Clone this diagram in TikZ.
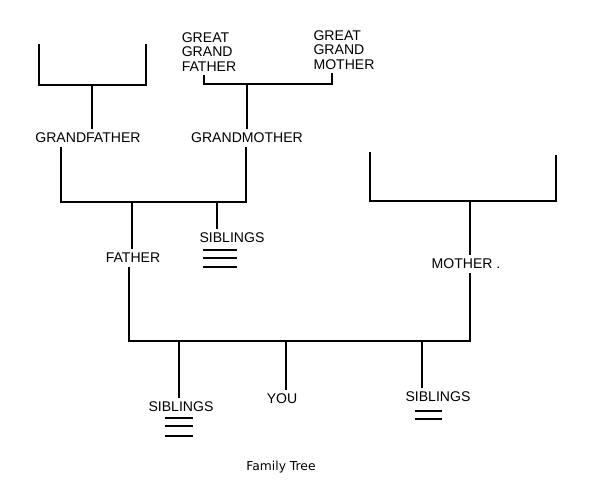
\documentclass[tikz,border=0pt]{standalone}
\usepackage{fontspec}
\setsansfont{Liberation Sans}
\newfontfamily\captionfont{DejaVu Sans}
\usepackage{tikz}

\begin{document}
\begin{tikzpicture}[x=0.03cm, y=-0.03cm,
    person/.style = {font=\sffamily\fontsize{12}{12.5}\selectfont, inner sep=3pt},
    line/.style = {line width=1.4pt},
    tally/.style = {line width=1.2pt}]
            \useasboundingbox (0,0) rectangle (590,484);

            \node[person] (gf) at (88,138) {GRANDFATHER};
            \node[person] (gm) at (247,138) {GRANDMOTHER};
            \node[person, align=left] (ggf) at (209,52) {GREAT\\GRAND\\FATHER};
            \node[person, align=left] (ggm) at (344,50) {GREAT\\GRAND\\MOTHER};
            \node[person] (fa) at (133,258) {FATHER};
            \node[person] (sibF) at (232,238) {SIBLINGS};
            \node[person] (mo) at (466,264) {MOTHER .};
            \node[person] (sibL) at (181,407) {SIBLINGS};
            \node[person] (you) at (282,399) {YOU};
            \node[person] (sibR) at (438,397) {SIBLINGS};
            \node[font=\captionfont\fontsize{10.5}{12}\selectfont] (cap) at (281,467) {Family Tree};

            % grandfather's parents
            \coordinate (gfpL) at (39,44);
            \coordinate (gfpR) at (146,44);
            \coordinate (gfpJ) at (92,85);
            \draw[line] (gfpL) |- (gfpJ) -| (gfpR);
            \draw[line] (gfpJ) -- (gf.north -| gfpJ);

            % great grandparents
            \coordinate (ggfJ) at (204,84);
            \coordinate (ggmJ) at (332,84);
            \coordinate (gmJ) at (247,84);
            \draw[line] (ggf.south -| ggfJ) -- (ggfJ) -- (ggmJ) -- (ggm.south -| ggmJ);
            \draw[line] (gmJ) -- (gm.north);

            % grandparents to father
            \coordinate (gfD) at (61,202);
            \coordinate (gmD) at (246,202);
            \coordinate (faJ) at (132,202);
            \coordinate (sibFJ) at (217,202);
            \draw[line] (gf.south -| gfD) -- (gfD) -- (gmD) -- (gm.south -| gmD);
            \draw[line] (faJ) -- (fa.north -| faJ);
            \draw[line] (sibFJ) -- (sibF.north -| sibFJ);
            \foreach \yy in {250,258,267}
                \draw[tally] (203,\yy) -- (237,\yy);

            % mother's parents
            \coordinate (moL) at (370,152);
            \coordinate (moR) at (556,155);
            \coordinate (moJ) at (470,201);
            \draw[line] (moL) |- (moJ) -| (moR);
            \draw[line] (moJ) -- (mo.north -| moJ);

            % father and mother to children
            \coordinate (faB) at (129,341);
            \coordinate (moB) at (470,341);
            \coordinate (sibLJ) at (179,341);
            \coordinate (youJ) at (286,341);
            \coordinate (sibRJ) at (422,341);
            \draw[line] (fa.south -| faB) -- (faB) -- (moB) -- (mo.south -| moB);
            \draw[line] (sibLJ) -- (sibL.north -| sibLJ);
            \draw[line] (youJ) -- (you.north -| youJ);
            \draw[line] (sibRJ) -- (sibR.north -| sibRJ);
            \foreach \yy in {418,426,436}
                \draw[tally] (165,\yy) -- (193,\yy);
            \foreach \yy in {411,419}
                \draw[tally] (415,\yy) -- (442,\yy);
        \end{tikzpicture}
\end{document}
